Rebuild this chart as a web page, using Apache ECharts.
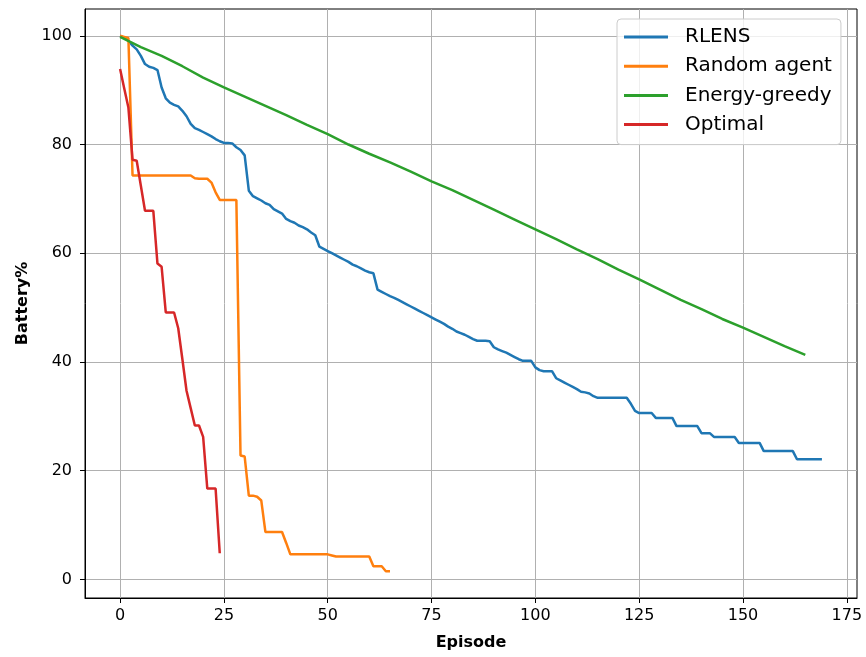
<!DOCTYPE html>
<html>
<head>
<meta charset="utf-8">
<script src="https://cdn.jsdelivr.net/npm/echarts@6/dist/echarts.min.js"></script>
<style>
html,body{margin:0;padding:0;background:#fff;}
#chart{width:866px;height:657px;}
</style>
</head>
<body>
<div id="chart"></div>
<script>
// ---- data (episode index = array position unless stated) ----
const seriesNames = ['RLENS', 'Random agent', 'Energy-greedy', 'Optimal'];
const xTicks = [0, 25, 50, 75, 100, 125, 150, 175];
const yTicks = [0, 20, 40, 60, 80, 100];

const rlensValues = [
  100, 99.6, 99.1, 98.2, 97.5, 96.3, 94.8, 94.3, 94.1, 93.7,
  90.5, 88.5, 87.7, 87.3, 87.0, 86.2, 85.2, 83.8, 83.0, 82.7,
  82.3, 81.9, 81.5, 81.0, 80.6, 80.3, 80.3, 80.2, 79.5, 79.0,
  78.0, 71.5, 70.5, 70.1, 69.7, 69.2, 68.9, 68.1, 67.7, 67.3,
  66.3, 65.9, 65.6, 65.1, 64.8, 64.4, 63.8, 63.3, 61.2, 60.8,
  60.4, 60.0, 59.6, 59.2, 58.8, 58.4, 57.9, 57.6, 57.2, 56.8,
  56.5, 56.3, 53.3, 52.9, 52.5, 52.1, 51.8, 51.4, 51.0, 50.6,
  50.2, 49.8, 49.4, 49.0, 48.6, 48.2, 47.8, 47.4, 47.0, 46.5,
  46.1, 45.6, 45.3, 45.0, 44.6, 44.2, 43.9, 43.9, 43.9, 43.8,
  42.7, 42.3, 42.0, 41.7, 41.3, 40.9, 40.5, 40.2, 40.2, 40.2,
  39.0, 38.5, 38.3, 38.3, 38.3, 37.0, 36.6, 36.2, 35.8, 35.4,
  35.0, 34.5, 34.4, 34.2, 33.7, 33.4, 33.4, 33.4, 33.4, 33.4,
  33.4, 33.4, 33.4, 32.3, 31.0, 30.6, 30.6, 30.6, 30.6, 29.7,
  29.7, 29.7, 29.7, 29.7, 28.2, 28.2, 28.2, 28.2, 28.2, 28.2,
  26.9, 26.9, 26.9, 26.2, 26.2, 26.2, 26.2, 26.2, 26.2, 25.1,
  25.1, 25.1, 25.1, 25.1, 25.1, 23.6, 23.6, 23.6, 23.6, 23.6,
  23.6, 23.6, 23.6, 22.1, 22.1, 22.1, 22.1, 22.1, 22.1, 22.1
];

const randomValues = [
  100, 99.8, 99.6, 74.3, 74.3, 74.3, 74.3, 74.3, 74.3, 74.3,
  74.3, 74.3, 74.3, 74.3, 74.3, 74.3, 74.3, 74.3, 73.8, 73.7,
  73.7, 73.7, 73.0, 71.2, 69.8, 69.8, 69.8, 69.8, 69.8, 22.8,
  22.6, 15.4, 15.4, 15.2, 14.5, 8.7, 8.7, 8.7, 8.7, 8.7,
  6.7, 4.6, 4.6, 4.6, 4.6, 4.6, 4.6, 4.6, 4.6, 4.6,
  4.6, 4.4, 4.2, 4.2, 4.2, 4.2, 4.2, 4.2, 4.2, 4.2,
  4.2, 2.4, 2.4, 2.4, 1.5, 1.5
];

const greedyEpisodes = [
  0, 5, 10, 15, 20, 25, 30, 35, 40, 45, 50, 55, 60, 65, 70, 75, 80,
  85, 90, 95, 100, 105, 110, 115, 120, 125, 130, 135, 140, 145, 150, 155, 160, 165
];
const greedyValues = [
  99.8, 97.9, 96.3, 94.4, 92.3, 90.5, 88.8, 87.1, 85.4, 83.6, 81.9, 80.0, 78.3,
  76.7, 75.0, 73.2, 71.6, 69.8, 68.0, 66.2, 64.4, 62.6, 60.7, 58.9, 57.0, 55.2,
  53.3, 51.4, 49.7, 47.9, 46.3, 44.6, 42.9, 41.3
];

const optimalValues = [
  93.9, 90.3, 86.8, 77.2, 77.0, 72.4, 67.8, 67.8, 67.8, 58.1,
  57.5, 49.1, 49.1, 49.1, 46.2, 40.5, 34.7, 31.5, 28.3, 28.3,
  26.2, 16.7, 16.7, 16.7, 4.8
];

const colors = ['#1f77b4', '#ff7f0e', '#2ca02c', '#d62728'];

// ---- build ----
const byIndex = vals => vals.map((v, i) => [i, v]);
const seriesData = [
  byIndex(rlensValues),
  byIndex(randomValues),
  greedyEpisodes.map((e, i) => [e, greedyValues[i]]),
  byIndex(optimalValues)
];

const FONT = 'DejaVu Sans';
const chart = echarts.init(document.getElementById('chart'), null, {renderer: 'canvas'});

const axisCommon = {
  type: 'value',
  axisLine: {show: true, onZero: false, lineStyle: {color: '#000', width: 1}},
  axisTick: {show: true, inside: false, length: 5, lineStyle: {color: '#000', width: 1}},
  splitLine: {show: true, lineStyle: {color: '#b0b0b0', width: 1}},
  axisLabel: {color: '#000', fontFamily: FONT, fontSize: 16},
  nameLocation: 'middle',
  nameTextStyle: {color: '#000', fontFamily: FONT, fontSize: 16, fontWeight: 'bold'}
};

chart.setOption({
  animation: false,
  backgroundColor: '#fff',
  color: colors,
  grid: {left: 85, right: 9, top: 9, bottom: 59, show: true, borderColor: '#000', borderWidth: 1, containLabel: false},
  xAxis: Object.assign({}, axisCommon, {
    min: -8.45, max: 177.45,
    name: 'Episode', nameGap: 37,
    axisTick: Object.assign({}, axisCommon.axisTick, {customValues: xTicks}),
    axisLabel: Object.assign({}, axisCommon.axisLabel, {customValues: xTicks, margin: 10})
  }),
  yAxis: Object.assign({}, axisCommon, {
    min: -3.43, max: 104.93,
    name: 'Battery%', nameGap: 54,
    axisTick: Object.assign({}, axisCommon.axisTick, {customValues: yTicks}),
    axisLabel: Object.assign({}, axisCommon.axisLabel, {customValues: yTicks, margin: 13})
  }),
  legend: {
    show: true,
    orient: 'vertical',
    left: 617, top: 19,
    padding: [7, 9, 9, 7],
    itemGap: 7.2,
    itemWidth: 44,
    itemHeight: 3,
    icon: 'rect',
    backgroundColor: 'rgba(255,255,255,0.8)',
    borderColor: '#cccccc',
    borderWidth: 1,
    borderRadius: 4,
    textStyle: {color: '#000', fontFamily: FONT, fontSize: 20, lineHeight: 22, padding: [0, 0, 0, 12]},
    data: seriesNames
  },
  series: seriesNames.map((n, i) => ({
    name: n,
    type: 'line',
    data: seriesData[i],
    showSymbol: false,
    symbol: 'none',
    lineStyle: {width: 2.5, color: colors[i]},
    itemStyle: {color: colors[i]},
    z: 2 + i
  }))
});
</script>
</body>
</html>
